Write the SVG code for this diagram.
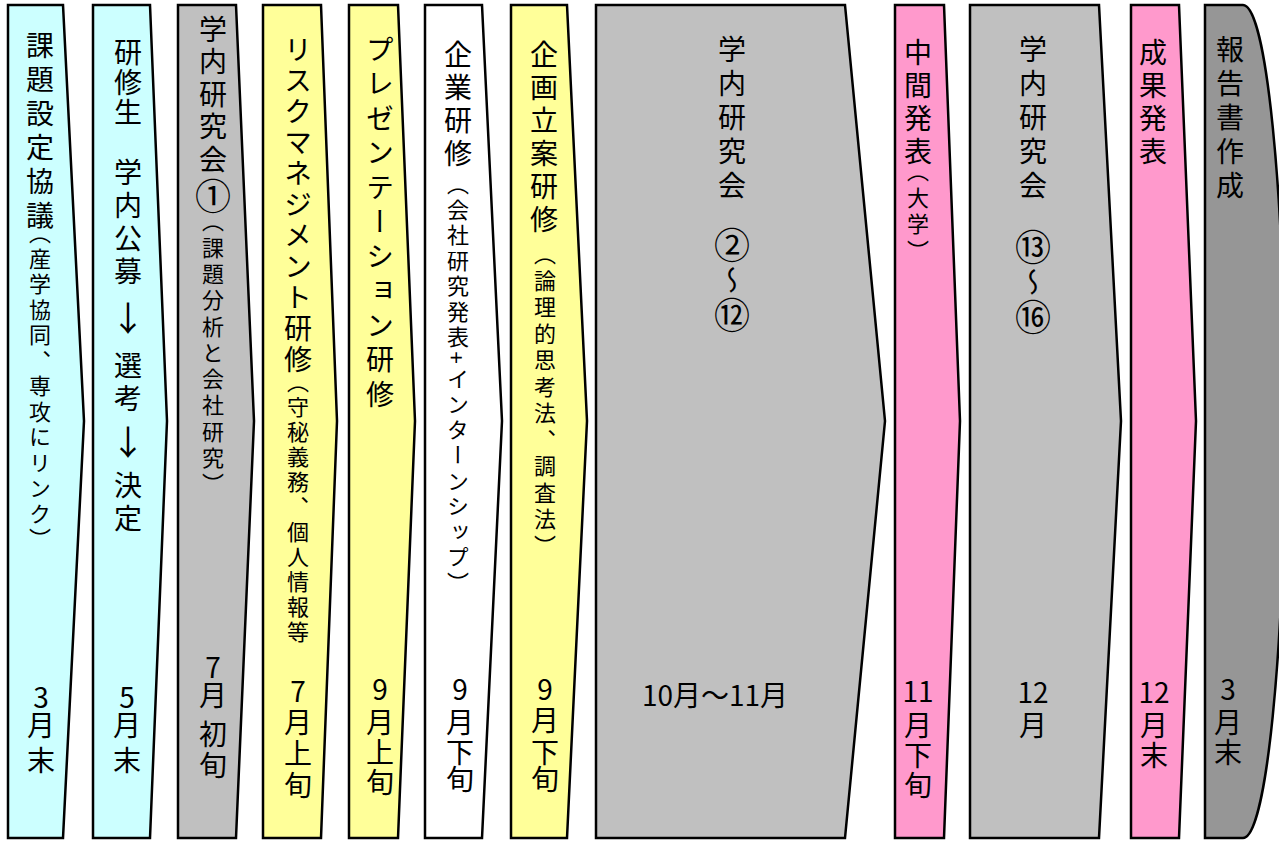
<svg xmlns="http://www.w3.org/2000/svg" width="1279" height="841" viewBox="0 0 1279 841">
<style>
.s{stroke:#000;stroke-width:2.5;stroke-linejoin:miter}
.cy{fill:#CCFFFF}.gy{fill:#C0C0C0}.ye{fill:#FFFF99}.wh{fill:#FFFFFF}.pk{fill:#FF99CC}.dg{fill:#969696}
text{font-family:"Noto Sans CJK JP","Noto Sans CJK SC",sans-serif;fill:#000}
.v{writing-mode:vertical-rl}
.m{font-size:28px}
.sm{font-size:22px}
.d{font-size:28px;text-anchor:middle}
.c{font-size:36px}
</style>
<rect width="1279" height="841" fill="#fff"/>
<g id="n1">
<polygon class="s cy" points="8,5 63,5 84,421 63,838 8,838"/>
<text class="v m" x="40" y="31" style="letter-spacing:6px">課題設定協議</text>
<text class="v sm" x="40" y="222" style="letter-spacing:3.5px">（産学協同、専攻にリンク）</text>
<text class="d" x="41"><tspan x="41" y="708">3</tspan><tspan x="41" y="736">月</tspan><tspan x="41" y="771">末</tspan></text>
</g>
<g id="n2">
<polygon class="s cy" points="93,5 150,5 167,421 150,838 93,838"/>
<text class="v m" x="128" y="38" style="letter-spacing:2px">研修生</text>
<text class="v m" x="128" y="158" style="letter-spacing:5px">学内公募</text>
<text class="d" x="128" y="331" style="font-size:34px">↓</text>
<text class="v m" x="128" y="351" style="letter-spacing:5px">選考</text>
<text class="d" x="128" y="455" style="font-size:34px">↓</text>
<text class="v m" x="128" y="471" style="letter-spacing:5px">決定</text>
<text class="d" x="127"><tspan x="127" y="708">5</tspan><tspan x="127" y="736">月</tspan><tspan x="127" y="771">末</tspan></text>
</g>
<g id="n3">
<polygon class="s gy" points="178,5 236,5 254,421 236,838 178,838"/>
<text class="v m" x="213" y="15" style="letter-spacing:4.6px">学内研究会<tspan class="c" style="letter-spacing:0">①</tspan></text>
<text class="v sm" x="213" y="210" style="letter-spacing:4.3px">（課題分析と会社研究）</text>
<text class="d" x="213"><tspan x="213" y="678">7</tspan><tspan x="213" y="706">月</tspan><tspan x="213" y="745">初</tspan><tspan x="213" y="776">旬</tspan></text>
</g>
<g id="n4">
<polygon class="s ye" points="263,5 321,5 337,421 321,838 263,838"/>
<text class="v m" x="298" y="35" style="letter-spacing:3px">リスクマネジメント研修</text>
<text class="v sm" x="298" y="371" style="letter-spacing:3px">（守秘義務、個人情報等</text>
<text class="d" x="298"><tspan x="298" y="702">7</tspan><tspan x="298" y="733">月</tspan><tspan x="298" y="764">上</tspan><tspan x="298" y="796">旬</tspan></text>
</g>
<g id="n5">
<polygon class="s ye" points="349,5 398,5 415,421 398,838 349,838"/>
<text class="v m" x="380" y="35" style="letter-spacing:6.5px">プレゼンテーション研修</text>
<text class="d" x="380"><tspan x="380" y="700">9</tspan><tspan x="380" y="733">月</tspan><tspan x="380" y="763">上</tspan><tspan x="380" y="793">旬</tspan></text>
</g>
<g id="n6">
<polygon class="s wh" points="425,5 482,5 502,421 482,838 425,838"/>
<text class="v m" x="458" y="40" style="letter-spacing:5px">企業研修</text>
<text class="v sm" x="458" y="173" style="letter-spacing:3.5px">（会社研究発表+インターンシップ）</text>
<text class="d" x="460"><tspan x="460" y="700">9</tspan><tspan x="460" y="733">月</tspan><tspan x="460" y="763">下</tspan><tspan x="460" y="790">旬</tspan></text>
</g>
<g id="n7">
<polygon class="s ye" points="511,5 567,5 587,421 567,838 511,838"/>
<text class="v m" x="544" y="40" style="letter-spacing:5px">企画立案研修</text>
<text class="v sm" x="545" y="243" style="letter-spacing:4.5px">（論理的思考法、調査法）</text>
<text class="d" x="545"><tspan x="545" y="700">9</tspan><tspan x="545" y="731">月</tspan><tspan x="545" y="763">下</tspan><tspan x="545" y="790">旬</tspan></text>
</g>
<g id="n8">
<polygon class="s gy" points="596,5 845,5 885,421 845,838 596,838"/>
<text class="v m" x="732" y="35" style="letter-spacing:6px">学内研究会</text>
<text class="v m" x="732" y="227" style="letter-spacing:3px"><tspan class="c">②</tspan>～<tspan class="c">⑫</tspan></text>
<text class="d" x="715" y="706">10月～11月</text>
</g>
<g id="n9">
<polygon class="s pk" points="895,5 944,5 960,421 944,838 895,838"/>
<text class="v m" x="918" y="38" style="letter-spacing:5px">中間発表</text>
<text class="v sm" x="918" y="160" style="letter-spacing:4.5px">（大学）</text>
<text class="d" x="918"><tspan x="918" y="702">11</tspan><tspan x="918" y="736">月</tspan><tspan x="918" y="766">下</tspan><tspan x="918" y="796">旬</tspan></text>
</g>
<g id="n10">
<polygon class="s gy" points="970,5 1099,5 1121,421 1099,838 970,838"/>
<text class="v m" x="1033" y="35" style="letter-spacing:6px">学内研究会</text>
<text class="v m" x="1033" y="229" style="letter-spacing:3px"><tspan class="c">⑬</tspan>～<tspan class="c">⑯</tspan></text>
<text class="d" x="1033"><tspan x="1033" y="703">12</tspan><tspan x="1033" y="736">月</tspan></text>
</g>
<g id="n11">
<polygon class="s pk" points="1131,5 1179,5 1196,421 1179,838 1131,838"/>
<text class="v m" x="1153" y="38" style="letter-spacing:5px">成果発表</text>
<text class="d" x="1154"><tspan x="1154" y="703">12</tspan><tspan x="1154" y="736">月</tspan><tspan x="1154" y="766">末</tspan></text>
</g>
<g id="n12">
<path class="s dg" d="M1205,5 L1243,5 A42,416 0 0 1 1243,838 L1205,838 Z"/>
<text class="v m" x="1230" y="35" style="letter-spacing:6px">報告書作成</text>
<text class="d" x="1228"><tspan x="1228" y="700">3</tspan><tspan x="1228" y="733">月</tspan><tspan x="1228" y="763">末</tspan></text>
</g>
</svg>
